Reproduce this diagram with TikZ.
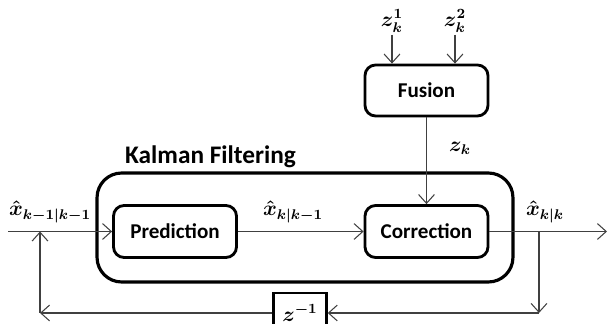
\documentclass[tikz,border=0pt]{standalone}
\usepackage{amsmath,amssymb}
\usepackage{fontspec}
\setmainfont{Carlito}
\usetikzlibrary{arrows.meta,positioning,calc}

\begin{document}
\begin{tikzpicture}[
    x=0.02cm, y=-0.02cm,
    block/.style={draw, line width=1.6pt, rounded corners=6pt, minimum width=2.46cm, minimum height=1.04cm, font=\bfseries\large},
    arr/.style={-{Straight Barb[length=5pt,width=9pt]}, line width=0.6pt, black!75},
    lbl/.style={font=\large\boldmath, inner sep=1pt}
  ]
    \useasboundingbox (0,0) rectangle (613,324);
    % outer filter box
    \node[draw, line width=1.8pt, rounded corners=14pt, minimum width=8.32cm, minimum height=2.18cm] (KF) at (305,227.5) {};
    \node[font=\bfseries\Large, anchor=west] (KFtitle) at (119,157) {Kalman Filtering};
    \node[block] (pred) at (175,231.5) {Prediction};
    \node[block] (corr) at (426.5,231.5) {Correction};
    \node[block, minimum height=1.02cm] (fus) at (426.5,90.5) {Fusion};
    \node[draw, line width=1.4pt, minimum width=1.06cm, minimum height=0.8cm, font=\large] (delay) at (300,313) {$\boldsymbol{z^{-1}}$};
    % labels
    \node[lbl] (z1) at (392,21) {$z_k^1$};
    \node[lbl] (z2) at (455,21) {$z_k^2$};
    \node[lbl] (zk) at (460,148) {$z_k$};
    \node[lbl] (xin) at (50,212) {$\hat{x}_{k-1|k-1}$};
    \node[lbl] (xpred) at (293,212) {$\hat{x}_{k|k-1}$};
    \node[lbl] (xout) at (545,212) {$\hat{x}_{k|k}$};
    % signal points
    \coordinate (in) at (8,231.5);
    \coordinate (out) at (607,231.5);
    \coordinate (tapR) at (539,231.5);
    \coordinate (tapRb) at (539,313);
    \coordinate (tapL) at (40,231.5);
    \coordinate (tapLb) at (40,313);
    % connections
    \draw[arr] (z1) -- (z1 |- fus.north);
    \draw[arr] (z2) -- (z2 |- fus.north);
    \draw[arr] (fus) -- (corr);
    \draw[arr] (in) -- (pred);
    \draw[arr] (pred) -- (corr);
    \draw[arr] (corr) -- (out);
    \draw[arr] (tapR) -- (tapRb);
    \draw[arr] (tapRb) -- (delay);
    \draw[arr] (delay) -- (tapLb);
    \draw[arr] (tapLb) -- (tapL);
  \end{tikzpicture}
\end{document}
